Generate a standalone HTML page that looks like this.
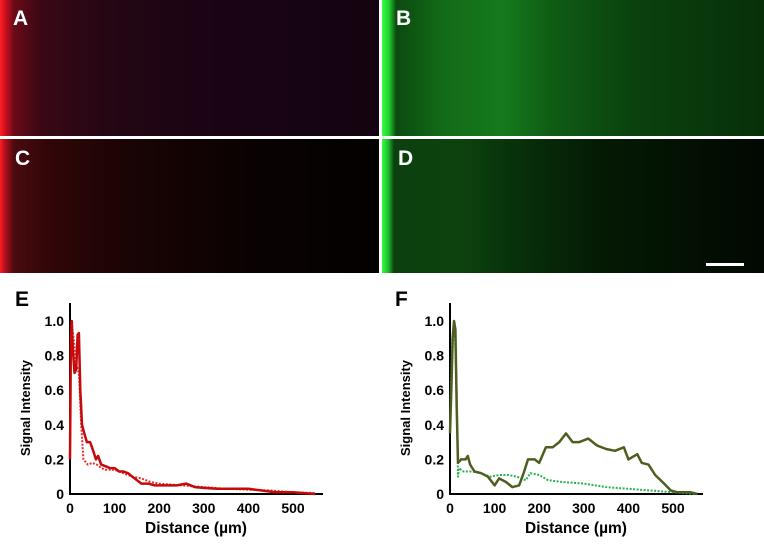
<!DOCTYPE html>
<html><head><meta charset="utf-8"><style>
body{margin:0;width:764px;height:550px;background:#fff;overflow:hidden;font-family:"Liberation Sans",Arial,sans-serif}
.p{position:absolute}
.lbl{position:absolute;color:#fff;font-weight:bold;font-size:21px}
</style></head><body>
<div class="p" style="left:0;top:0;width:379px;height:136px;background:linear-gradient(90deg,#ff2020 0,#d01020 5px,#6a0a18 14px,#3a0814 40px,#240614 110px,#1a0414 220px,#140310 379px)"></div>
<div class="p" style="left:382px;top:0;width:382px;height:136px;background:linear-gradient(90deg,#30ff40 0,#22d030 7px,#0c4a10 14px,#126a18 60px,#167a1c 120px,#0f5c14 170px,#0a420e 250px,#073009 382px)"></div>
<div class="p" style="left:0;top:139px;width:379px;height:134px;background:linear-gradient(90deg,#ff2020 0,#c01020 4px,#4a0a10 14px,#300608 50px,#1a0404 130px,#0a0202 250px,#040101 379px)"></div>
<div class="p" style="left:382px;top:139px;width:382px;height:134px;background:linear-gradient(90deg,#30ff40 0,#20c030 6px,#0c400e 12px,#0c420e 80px,#08320a 130px,#041a04 220px,#020802 382px)"></div>
<div class="p" style="left:706px;top:263px;width:38px;height:3px;background:#fff"></div>
<div class="lbl" style="left:13px;top:7px">A</div>
<div class="lbl" style="left:396px;top:7px">B</div>
<div class="lbl" style="left:15px;top:147px">C</div>
<div class="lbl" style="left:398px;top:147px">D</div>
<svg id="svg" class="p" style="left:0;top:0" width="764" height="550"></svg>
<script>
const xTicks=[0,100,200,300,400,500];
const yTicks=[0,0.2,0.4,0.6,0.8,1.0];
const yTickLabels=["0","0.2","0.4","0.6","0.8","1.0"];
const eSolidX=[0,2,4,6,10,14,17,20,23,27,32,38,45,52,58,63,70,80,90,100,110,120,130,140,150,160,175,190,200,220,240,260,280,300,330,360,400,430,460,500,550];
const eSolidY=[0.2,0.9,1.0,0.85,0.7,0.72,0.92,0.93,0.6,0.4,0.35,0.3,0.3,0.25,0.2,0.22,0.17,0.16,0.15,0.15,0.13,0.13,0.12,0.1,0.08,0.06,0.06,0.05,0.05,0.05,0.05,0.06,0.04,0.035,0.03,0.03,0.03,0.02,0.01,0.01,0.0];
const eDotX=[0,3,8,14,20,25,30,40,50,60,70,80,100,120,140,160,180,200,250,300,350,400,450,500,550];
const eDotY=[0.5,1.0,0.9,0.75,0.7,0.4,0.2,0.17,0.18,0.17,0.15,0.14,0.14,0.12,0.1,0.09,0.07,0.06,0.05,0.04,0.03,0.025,0.02,0.01,0.005];
const fSolidX=[0,3,6,9,12,15,18,25,35,40,45,55,70,85,100,110,125,140,155,165,175,190,200,215,230,245,260,275,290,310,330,350,370,390,400,420,430,445,460,480,495,510,540,555];
const fSolidY=[0.35,0.6,0.9,1.0,0.95,0.5,0.18,0.2,0.2,0.22,0.17,0.13,0.12,0.1,0.05,0.09,0.07,0.04,0.05,0.12,0.2,0.2,0.18,0.27,0.27,0.3,0.35,0.3,0.3,0.32,0.28,0.26,0.25,0.27,0.2,0.23,0.18,0.17,0.11,0.06,0.02,0.01,0.01,0];
const fDotX=[0,5,10,15,18,20,30,50,70,90,110,130,150,170,180,200,220,250,300,350,400,450,500,550];
const fDotY=[0.4,0.9,1.0,0.6,0.1,0.15,0.13,0.13,0.12,0.1,0.11,0.11,0.1,0.08,0.12,0.11,0.08,0.07,0.06,0.04,0.03,0.02,0.01,0];
const NS="http://www.w3.org/2000/svg";
const svg=document.getElementById('svg');
function mk(t,a,txt){const e=document.createElementNS(NS,t);for(const k in a)e.setAttribute(k,a[k]);if(txt!==undefined)e.textContent=txt;svg.appendChild(e);return e;}
function chart(x0,name,letter,series){
  const sx=v=>x0+v*0.446, sy=v=>494-v*173;
  let t=mk('text',{x:x0-55,y:306,'font-size':21,'font-weight':'bold',fill:'#000'},letter);
  
  
  let ax=mk('path',{d:`M${x0} 303V494H${x0+253}`,stroke:'#000','stroke-width':2,fill:'none'});
  
  
  xTicks.forEach(v=>{let l=mk('text',{x:sx(v),y:513,'font-size':14,'font-weight':'bold','text-anchor':'middle'},String(v));
    
    });
  yTicks.forEach((v,i)=>{let l=mk('text',{x:x0-6,y:sy(v)+5,'font-size':14,'font-weight':'bold','text-anchor':'end'},yTickLabels[i]);
    
    });
  let yt=mk('text',{transform:`translate(${x0-40},408) rotate(-90)`,'font-size':13,'font-weight':'bold','text-anchor':'middle'},'Signal Intensity');
  
  
  let xt=mk('text',{x:x0+126,y:533,'font-size':15.5,'font-weight':'bold','text-anchor':'middle'},'Distance (µm)');
  
  
  series.forEach(s=>{
    const d=s.x.map((v,i)=>(i?'L':'M')+sx(v).toFixed(1)+' '+sy(s.y[i]).toFixed(1)).join('');
    let p=mk('path',{d,stroke:s.c,'stroke-width':s.w,fill:'none','stroke-dasharray':s.dash||'none','stroke-linejoin':'round'});
    
    
  });
}
chart(70,'e','E',[{x:eDotX,y:eDotY,c:'#e8302a',w:2,dash:'2 1.5',n:'series-e-dotted'},{x:eSolidX,y:eSolidY,c:'#c40a0a',w:2.5,n:'series-e-solid'}]);
chart(450,'f','F',[{x:fDotX,y:fDotY,c:'#2ab050',w:2,dash:'2 1.5',n:'series-f-dotted'},{x:fSolidX,y:fSolidY,c:'#4e5e20',w:2.5,n:'series-f-solid'}]);
</script>
</body></html>
